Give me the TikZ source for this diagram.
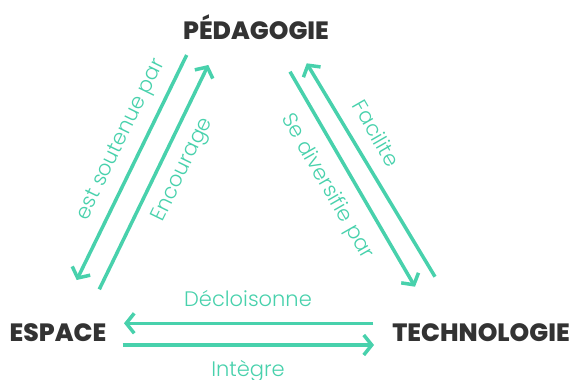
\documentclass[tikz,border=0pt]{standalone}
\usepackage{fontspec}
\setmainfont{Poppins}
\newfontfamily\lightfont{Poppins Light}
\newfontfamily\heavyfont{Poppins ExtraBold}
\usetikzlibrary{arrows.meta}
\definecolor{vert}{HTML}{48D1AC}
\definecolor{gris}{HTML}{333333}
\tikzset{
	pole/.style={font=\heavyfont\fontsize{25}{25}\selectfont, text=gris, inner sep=0pt},
	lien/.style={draw=vert, line width=3.5pt, -{Straight Barb[length=8pt,width=20pt]}},
	verbe/.style={font=\lightfont\fontsize{21}{21}\selectfont, text=vert, inner sep=0pt},
}
\begin{document}
\begin{tikzpicture}[x=1pt,y=-1pt]
			\useasboundingbox (0,0) rectangle (574,380);
			% les trois poles
			\node[pole] (ped) at (256,27) {PÉDAGOGIE};
			\node[pole] (esp) at (58,333) {ESPACE};
			\node[pole] (tech) at (481,333) {TECHNOLOGIE};
			% extremites des fleches
			\coordinate (pe1) at (186.7,55);   \coordinate (pe2) at (76.7,280);
			\coordinate (ep1) at (99.3,289.3); \coordinate (ep2) at (208.3,65);
			\coordinate (pt1) at (290,71.7);   \coordinate (pt2) at (415,286.7);
			\coordinate (tp1) at (435,276.7);  \coordinate (tp2) at (306.7,63.3);
			\coordinate (te1) at (373.3,323.3); \coordinate (te2) at (124,323.3);
			\coordinate (et1) at (122.7,345);  \coordinate (et2) at (374,345);
			\draw[lien] (pe1) -- (pe2);
			\draw[lien] (ep1) -- (ep2);
			\draw[lien] (pt1) -- (pt2);
			\draw[lien] (tp1) -- (tp2);
			\draw[lien] (te1) -- (te2);
			\draw[lien] (et1) -- (et2);
			% les verbes
			\node[verbe, rotate=64] (soutenue) at (121.7,140) {est soutenue par};
			\node[verbe, rotate=64] (encourage) at (183.3,170) {Encourage};
			\node[verbe, rotate=-60] (diversifie) at (326.7,186.7) {Se diversifie par};
			\node[verbe, rotate=-60] (facilite) at (376.7,133.3) {Facilite};
			\node[verbe] (decloisonne) at (248,298) {Décloisonne};
			\node[verbe] (integre) at (248,371) {Intègre};
\end{tikzpicture}
\end{document}
